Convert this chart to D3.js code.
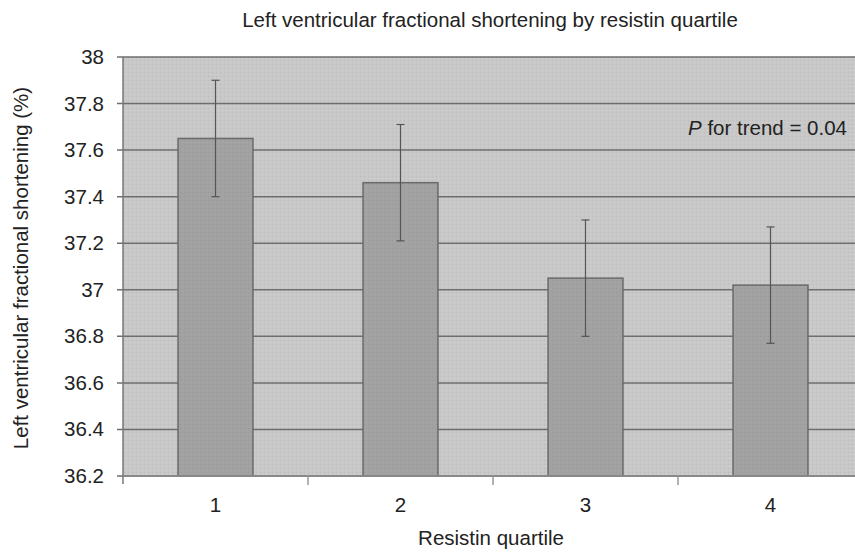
<!DOCTYPE html>
<html>
<head>
<meta charset="utf-8">
<script src="https://cdn.jsdelivr.net/npm/d3@7"></script>
<style>
  body { margin: 0; background: #fff; }
  text { font-family: "Liberation Sans", Arial, sans-serif; fill: #222; }
</style>
</head>
<body>
<svg width="855" height="558"></svg>
<script>
var quartiles = ["1", "2", "3", "4"];
var meanFS = [37.65, 37.46, 37.05, 37.02];
var errLow = [37.40, 37.21, 36.80, 36.77];
var errHigh = [37.90, 37.71, 37.30, 37.27];
var yTicks = [36.2, 36.4, 36.6, 36.8, 37, 37.2, 37.4, 37.6, 37.8, 38];

var svg = d3.select("svg");
var mLeft = 123, mRight = 863, mTop = 57, mBottom = 476;

var x = d3.scaleBand().domain(quartiles).range([mLeft, mRight]).paddingInner(0).paddingOuter(0);
var y = d3.scaleLinear().domain([36.2, 38]).range([mBottom, mTop]);

// textured backgrounds
var defs = svg.append("defs");
var pat = defs.append("pattern").attr("id", "dots").attr("width", 4).attr("height", 4)
  .attr("patternUnits", "userSpaceOnUse");
pat.append("rect").attr("width", 4).attr("height", 4).attr("fill", "#c8c8c8");
pat.append("rect").attr("width", 1).attr("height", 1).attr("fill", "#bcbcbc");
pat.append("rect").attr("x", 2).attr("y", 2).attr("width", 1).attr("height", 1).attr("fill", "#d2d2d2");

var pat2 = defs.append("pattern").attr("id", "dots2").attr("width", 4).attr("height", 4)
  .attr("patternUnits", "userSpaceOnUse");
pat2.append("rect").attr("width", 4).attr("height", 4).attr("fill", "#a2a2a2");
pat2.append("rect").attr("width", 1).attr("height", 1).attr("fill", "#979797");

svg.append("rect").attr("x", mLeft).attr("y", mTop)
  .attr("width", mRight - mLeft).attr("height", mBottom - mTop)
  .attr("fill", "url(#dots)");

// gridlines
svg.append("g").selectAll("line").data(yTicks).enter().append("line")
  .attr("x1", mLeft - 6).attr("x2", mRight)
  .attr("y1", function(d) { return y(d); })
  .attr("y2", function(d) { return y(d); })
  .attr("stroke", "#6e6e6e").attr("stroke-width", 1.5);

// bars
var bw = x.bandwidth() * 0.405;
svg.append("g").selectAll("rect").data(meanFS).enter().append("rect")
  .attr("x", function(d, i) { return x(quartiles[i]) + x.bandwidth() / 2 - bw / 2; })
  .attr("y", function(d) { return y(d); })
  .attr("width", bw)
  .attr("height", function(d) { return mBottom - y(d); })
  .attr("fill", "url(#dots2)")
  .attr("stroke", "#6a6a6a").attr("stroke-width", 1.5);

// error bars
var eb = svg.append("g").selectAll("g").data(quartiles).enter().append("g");
eb.append("line")
  .attr("x1", function(d) { return x(d) + x.bandwidth() / 2; })
  .attr("x2", function(d) { return x(d) + x.bandwidth() / 2; })
  .attr("y1", function(d, i) { return y(errLow[i]); })
  .attr("y2", function(d, i) { return y(errHigh[i]); })
  .attr("stroke", "#555").attr("stroke-width", 1.2);
[errLow, errHigh].forEach(function(arr) {
  eb.append("line")
    .attr("x1", function(d) { return x(d) + x.bandwidth() / 2 - 4; })
    .attr("x2", function(d) { return x(d) + x.bandwidth() / 2 + 4; })
    .attr("y1", function(d, i) { return y(arr[i]); })
    .attr("y2", function(d, i) { return y(arr[i]); })
    .attr("stroke", "#555").attr("stroke-width", 1.2);
});

// axis lines
svg.append("line").attr("x1", mLeft).attr("x2", mLeft).attr("y1", mTop).attr("y2", mBottom + 8)
  .attr("stroke", "#777").attr("stroke-width", 1.5);
svg.append("line").attr("x1", mLeft).attr("x2", mRight).attr("y1", mBottom).attr("y2", mBottom)
  .attr("stroke", "#888").attr("stroke-width", 2);
svg.append("g").selectAll("line").data(quartiles.slice(1)).enter().append("line")
  .attr("x1", function(d) { return x(d); }).attr("x2", function(d) { return x(d); })
  .attr("y1", mBottom).attr("y2", mBottom + 9)
  .attr("stroke", "#999").attr("stroke-width", 1.5);

// y tick labels
svg.append("g").selectAll("text").data(yTicks).enter().append("text")
  .attr("x", 104).attr("y", function(d) { return y(d) + 7; })
  .attr("text-anchor", "end").attr("font-size", 20.5)
  .text(function(d) { return d; });

// x tick labels
svg.append("g").selectAll("text").data(quartiles).enter().append("text")
  .attr("x", function(d) { return x(d) + x.bandwidth() / 2; })
  .attr("y", 512).attr("text-anchor", "middle").attr("font-size", 20.5)
  .text(function(d) { return d; });

// titles
svg.append("text").attr("x", 490).attr("y", 27).attr("text-anchor", "middle")
  .attr("font-size", 20.5).text("Left ventricular fractional shortening by resistin quartile");
svg.append("text").attr("x", 491).attr("y", 545).attr("text-anchor", "middle")
  .attr("font-size", 20.5).text("Resistin quartile");
svg.append("text").attr("transform", "translate(28,268) rotate(-90)").attr("text-anchor", "middle")
  .attr("font-size", 20.5).text("Left ventricular fractional shortening (%)");

var pt = svg.append("text").attr("x", 847).attr("y", 135).attr("text-anchor", "end").attr("font-size", 20.5);
pt.append("tspan").attr("font-style", "italic").text("P");
pt.append("tspan").text(" for trend = 0.04");
</script>
</body>
</html>
